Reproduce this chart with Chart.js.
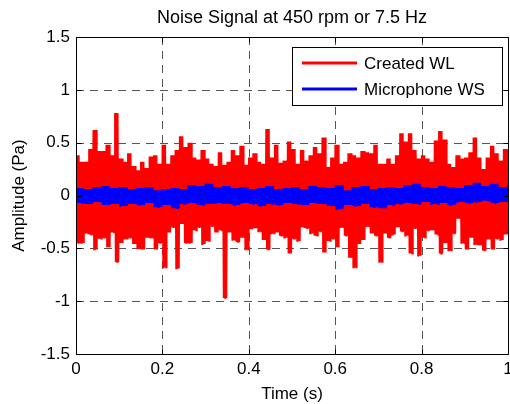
<!DOCTYPE html>
<html><head><meta charset="utf-8">
<script src="https://cdn.jsdelivr.net/npm/chart.js@4.4.1/dist/chart.umd.min.js"></script>
<style>html,body{margin:0;padding:0;background:#fff;overflow:hidden;}</style>
</head><body>
<canvas id="c" width="510" height="404"></canvas>
<script>
const chartTitle = 'Noise Signal at 450 rpm or 7.5 Hz';
const xAxisLabel = 'Time (s)';
const yAxisLabel = 'Amplitude (Pa)';
const seriesNames = ['Created WL', 'Microphone WS'];
const xTickValues = [0, 0.2, 0.4, 0.6, 0.8, 1];
const xTickLabels = ['0', '0.2', '0.4', '0.6', '0.8', '1'];
const yTickValues = [-1.5, -1, -0.5, 0, 0.5, 1, 1.5];
const yTickLabels = ['-1.5', '-1', '-0.5', '0', '0.5', '1', '1.5'];

// Created WL: upper / lower peak per 0.01 s window
const redStep = 0.01;
const redMax = [0.38,0.32,0.32,0.44,0.62,0.42,0.42,0.48,0.38,0.78,
 0.35,0.32,0.40,0.28,0.24,0.32,0.26,0.37,0.38,0.30,
 0.48,0.30,0.38,0.43,0.56,0.46,0.50,0.36,0.34,0.43,
 0.35,0.30,0.28,0.41,0.29,0.32,0.43,0.38,0.47,0.29,
 0.36,0.40,0.32,0.30,0.63,0.36,0.48,0.31,0.33,0.51,
 0.44,0.30,0.43,0.33,0.38,0.46,0.40,0.55,0.27,0.36,
 0.48,0.30,0.32,0.40,0.38,0.36,0.42,0.41,0.40,0.48,
 0.30,0.30,0.35,0.30,0.38,0.59,0.51,0.59,0.43,0.35,
 0.38,0.35,0.32,0.52,0.61,0.53,0.30,0.27,0.38,0.35,
 0.36,0.41,0.55,0.36,0.25,0.36,0.47,0.40,0.33,0.44,
 0.44];
const redMin = [-0.45,-0.45,-0.36,-0.37,-0.51,-0.41,-0.40,-0.49,-0.35,-0.63,
 -0.45,-0.41,-0.40,-0.46,-0.50,-0.51,-0.40,-0.40,-0.51,-0.45,
 -0.68,-0.35,-0.30,-0.69,-0.27,-0.45,-0.45,-0.33,-0.30,-0.46,
 -0.43,-0.29,-0.35,-0.33,-0.97,-0.35,-0.42,-0.44,-0.40,-0.51,
 -0.32,-0.31,-0.34,-0.42,-0.51,-0.36,-0.35,-0.38,-0.40,-0.55,
 -0.41,-0.43,-0.30,-0.31,-0.36,-0.38,-0.34,-0.54,-0.43,-0.41,
 -0.49,-0.30,-0.38,-0.59,-0.68,-0.46,-0.42,-0.29,-0.36,-0.38,
 -0.63,-0.36,-0.40,-0.37,-0.30,-0.34,-0.38,-0.55,-0.31,-0.57,
 -0.40,-0.33,-0.33,-0.37,-0.55,-0.45,-0.52,-0.36,-0.22,-0.45,
 -0.51,-0.40,-0.46,-0.47,-0.52,-0.41,-0.51,-0.41,-0.42,-0.37,
 -0.37];

// Microphone WS: upper / lower peak per 0.02 s window
const blueStep = 0.02;
const blueMax = [0.07,0.06,0.08,0.09,0.07,0.08,
 0.06,0.07,0.08,0.05,0.06,
 0.07,0.06,0.10,0.09,0.11,
 0.08,0.09,0.07,0.08,0.06,
 0.07,0.09,0.06,0.07,0.08,
 0.06,0.09,0.08,0.07,0.10,
 0.05,0.08,0.09,0.06,0.07,
 0.08,0.07,0.10,0.11,0.08,
 0.07,0.09,0.08,0.07,0.10,
 0.12,0.09,0.11,0.08,0.10];
const blueMin = [-0.07,-0.08,-0.06,-0.09,-0.08,-0.10,
 -0.08,-0.09,-0.07,-0.11,-0.09,
 -0.12,-0.08,-0.07,-0.09,-0.08,
 -0.07,-0.08,-0.09,-0.07,-0.08,
 -0.10,-0.08,-0.09,-0.07,-0.08,
 -0.09,-0.07,-0.08,-0.10,-0.13,
 -0.09,-0.10,-0.08,-0.11,-0.12,
 -0.09,-0.08,-0.07,-0.08,-0.06,
 -0.08,-0.07,-0.09,-0.06,-0.07,
 -0.06,-0.05,-0.07,-0.06,-0.08];

const FONT = "'Liberation Sans', Arial, Helvetica, sans-serif";
const RED = '#ff0000', BLUE = '#0000ff';

function zigzag(maxArr, minArr, step, swings) {
  const pts = [];
  const n = maxArr.length;
  for (let i = 0; i < n; i++) {
    for (let k = 0; k < swings * 2; k++) {
      const x = i * step + k * step / (swings * 2);
      if (x > 1 + 1e-9) break;
      pts.push({ x: x, y: (k % 2 === 0) ? maxArr[i] : minArr[i] });
    }
  }
  return pts;
}
const redPoints = zigzag(redMax, redMin, redStep, 3);
const bluePoints = zigzag(blueMax, blueMin, blueStep, 5);

const deco = {
  id: 'deco',
  beforeDatasetsDraw(chart) {
    const { ctx, chartArea: a, scales: { x, y } } = chart;
    ctx.save();
    ctx.strokeStyle = '#555';
    ctx.lineWidth = 1;
    ctx.setLineDash([8, 6]);
    ctx.beginPath();
    xTickValues.slice(1, -1).forEach(v => {
      const px = Math.round(x.getPixelForValue(v)) + 0.5;
      ctx.moveTo(px, a.top); ctx.lineTo(px, a.bottom);
    });
    yTickValues.slice(1, -1).forEach(v => {
      const py = Math.round(y.getPixelForValue(v)) + 0.5;
      ctx.moveTo(a.left, py); ctx.lineTo(a.right, py);
    });
    ctx.stroke();
    ctx.restore();
  },
  afterDatasetsDraw(chart) {
    const { ctx, chartArea: a, scales: { x, y } } = chart;
    ctx.save();
    ctx.strokeStyle = '#000';
    ctx.lineWidth = 1;
    const L = Math.round(a.left) + 0.5, R = Math.round(a.right) + 0.5;
    const T = Math.round(a.top) + 0.5, B = Math.round(a.bottom) + 0.5;
    ctx.beginPath();
    ctx.moveTo(L, T); ctx.lineTo(R, T); ctx.lineTo(R, B); ctx.lineTo(L, B); ctx.closePath();
    xTickValues.forEach(v => {
      const px = Math.round(x.getPixelForValue(v)) + 0.5;
      ctx.moveTo(px, B); ctx.lineTo(px, B - 5);
      ctx.moveTo(px, T); ctx.lineTo(px, T + 5);
    });
    yTickValues.forEach(v => {
      const py = Math.round(y.getPixelForValue(v)) + 0.5;
      ctx.moveTo(L, py); ctx.lineTo(L + 5, py);
      ctx.moveTo(R, py); ctx.lineTo(R - 5, py);
    });
    ctx.stroke();
    ctx.restore();
  },
  afterDraw(chart) {
    const { ctx, chartArea: a } = chart;
    ctx.save();
    ctx.fillStyle = '#000';
    ctx.font = '18px ' + FONT;
    ctx.textAlign = 'center';
    ctx.textBaseline = 'alphabetic';
    ctx.fillText(chartTitle, (a.left + a.right) / 2, 23);
    ctx.font = '17px ' + FONT;
    ctx.fillText(xAxisLabel, (a.left + a.right) / 2, 399);
    ctx.save();
    ctx.translate(24, (a.top + a.bottom) / 2);
    ctx.rotate(-Math.PI / 2);
    ctx.fillText(yAxisLabel, 0, 0);
    ctx.restore();
    const bx = 292.5, by = 47.5, bw = 210, bh = 58;
    ctx.fillStyle = '#fff';
    ctx.fillRect(bx, by, bw, bh);
    ctx.strokeStyle = '#000';
    ctx.lineWidth = 1;
    ctx.strokeRect(bx, by, bw, bh);
    const rows = [{ c: RED, y: 63 }, { c: BLUE, y: 89 }];
    rows.forEach((r, i) => {
      ctx.strokeStyle = r.c;
      ctx.lineWidth = 3;
      ctx.beginPath();
      ctx.moveTo(302, r.y); ctx.lineTo(357, r.y);
      ctx.stroke();
      ctx.fillStyle = '#000';
      ctx.font = '17px ' + FONT;
      ctx.textAlign = 'left';
      ctx.textBaseline = 'middle';
      ctx.fillText(seriesNames[i], 364, r.y + 1);
    });
    ctx.restore();
  }
};

new Chart(document.getElementById('c'), {
  type: 'line',
  data: {
    datasets: [
      { label: seriesNames[0], data: redPoints, borderColor: RED, borderWidth: 1.6, pointRadius: 0, tension: 0, fill: false, order: 2 },
      { label: seriesNames[1], data: bluePoints, borderColor: BLUE, borderWidth: 1.6, pointRadius: 0, tension: 0, fill: false, order: 1 }
    ]
  },
  options: {
    responsive: false,
    animation: false,
    devicePixelRatio: 1,
    parsing: false,
    normalized: true,
    layout: { padding: { top: 37, right: 2, left: 0, bottom: 0 } },
    plugins: { legend: { display: false }, title: { display: false }, tooltip: { enabled: false } },
    events: [],
    scales: {
      x: {
        type: 'linear', min: 0, max: 1,
        afterBuildTicks: s => { s.ticks = xTickValues.map(v => ({ value: v })); },
        afterFit: s => { s.height = 50; s.paddingLeft = 0; s.paddingRight = 0; },
        grid: { display: false, drawTicks: false },
        border: { display: false },
        ticks: { autoSkip: false, maxRotation: 0, minRotation: 0, padding: 5, color: '#000',
          font: { family: FONT, size: 17 }, callback: (v, i) => xTickLabels[i] }
      },
      y: {
        type: 'linear', min: -1.5, max: 1.5,
        afterBuildTicks: s => { s.ticks = yTickValues.map(v => ({ value: v })); },
        afterFit: s => { s.width = 76; s.paddingTop = 0; s.paddingBottom = 0; },
        grid: { display: false, drawTicks: false },
        border: { display: false },
        ticks: { padding: 6, color: '#000', font: { family: FONT, size: 17 },
          callback: (v, i) => yTickLabels[i] }
      }
    }
  },
  plugins: [deco]
});
</script>
</body></html>
